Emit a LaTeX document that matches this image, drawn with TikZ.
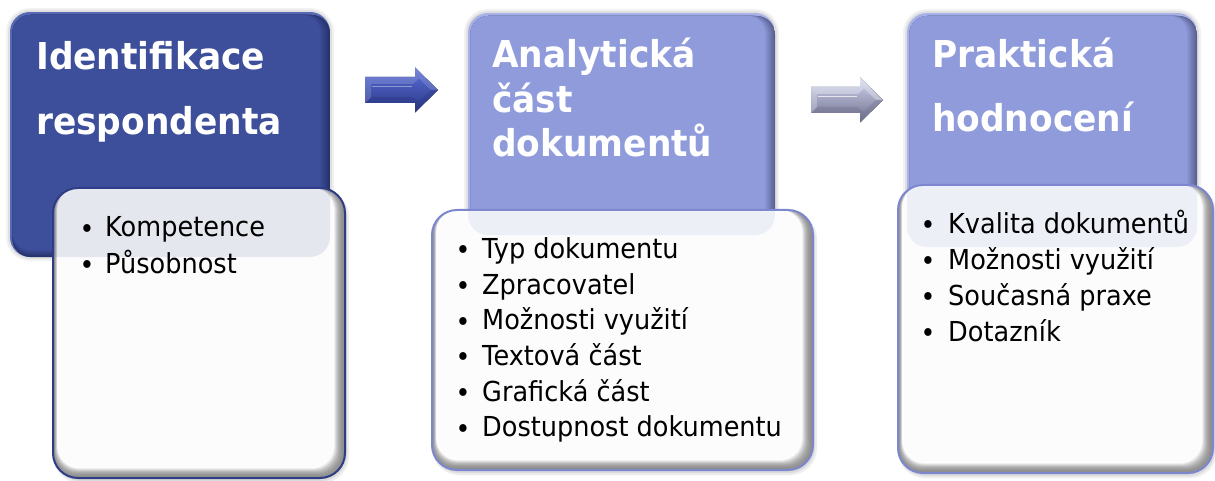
\documentclass[tikz,border=0pt]{standalone}
\usepackage{fontspec}
\setmainfont{DejaVu Sans}[FakeStretch=0.93]
\definecolor{dkblue}{HTML}{3D4F9B}
\definecolor{dkblueL}{HTML}{5869B4}
\definecolor{dkblueD}{HTML}{27326C}
\definecolor{peri}{HTML}{8F9BDB}
\definecolor{periL}{HTML}{A9B2E8}
\definecolor{periD}{HTML}{5A6292}
\definecolor{lineA}{HTML}{2E3D85}
\definecolor{lineB}{HTML}{7C87CF}
\definecolor{rim}{HTML}{8E8E8E}
\definecolor{aTop}{HTML}{5A6FD8}
\definecolor{aMid}{HTML}{4459C2}
\definecolor{aBot}{HTML}{2A3684}
\definecolor{bTop}{HTML}{D2D5F0}
\definecolor{bMid}{HTML}{B7BBDD}
\definecolor{bBot}{HTML}{6C6E8A}
\tikzset{
  ttl/.style={anchor=base west, inner sep=0pt, text=white, font=\fontsize{37}{44}\selectfont\bfseries},
  itm/.style={anchor=base west, inner sep=0pt, text=black, font=\fontsize{27.5}{33}\selectfont},
  bul/.style={anchor=base, inner sep=0pt, text=black, font=\fontsize{27}{32}\selectfont},
}
% coloured title box: x1 y1 x2 y2 base light dark
\newcommand\colbox[7]{%
  \fill[black!5, rounded corners=24] ({#1-4},{#2-4}) rectangle ({#3+4},{#4+4});
  \fill[black!12, rounded corners=22] ({#1-2},{#2-2}) rectangle ({#3+2},{#4+2});
  \begin{scope}
    \clip[rounded corners=20] (#1,#2) rectangle (#3,#4);
    \fill[#6] (#1,#2) rectangle (#3,#4);
    \foreach \i in {0,...,10}{%
      \pgfmathsetmacro\m{\i*10}
      \fill[#5!\m!#7, rounded corners=18] ({#1+2.5},{#2+3}) rectangle ({#3-\i},{#4-\i*0.7});
    }
  \end{scope}
}
% white list box: x1 y1 x2 y2, coloured box cx1 cy1 cx2 cy2, outline colour
\newcommand\whbox[9]{%
  \fill[black!7, rounded corners=27] ({#1},{#2+2}) rectangle ({#3+4},{#4+5});
  \fill[black!14, rounded corners=26] ({#1+1},{#2+2}) rectangle ({#3+2},{#4+3});
  \begin{scope}
    \clip[rounded corners=25] (#1,#2) rectangle (#3,#4);
    \fill[rim] (#1,#2) rectangle (#3,#4);
    \foreach \i in {0,...,11}{%
      \pgfmathsetmacro\m{min(100,\i*\i*0.85)}
      \fill[white!\m!rim, rounded corners=22] ({#1+\i*0.4},{#2}) rectangle ({#3-\i},{#4-\i*0.9});
    }
    \fill[white!99!black, rounded corners=20] ({#1+6},{#2+2}) rectangle ({#3-12},{#4-11});
    \fill[#9, opacity=0.11, rounded corners=20] (#5,#6) rectangle (#7,#8);
  \end{scope}
  \draw[#9, line width=2, rounded corners=25] (#1,#2) rectangle (#3,#4);
}
\begin{document}
\begin{tikzpicture}[x=1pt,y=-1pt]
\useasboundingbox (0,0) rectangle (1215,481);
\fill[white] (0,0) rectangle (1215,481);

% coloured boxes
\colbox{10}{12}{330}{257}{dkblue}{dkblueL}{dkblueD}
\colbox{468}{13}{775}{235}{peri}{periL}{periD}
\colbox{907}{13}{1197}{247}{peri}{periL}{periD}

% white boxes
\whbox{53}{188}{345}{478}{10}{12}{330}{257}{lineA}
\whbox{432}{210}{813}{470}{468}{13}{775}{235}{lineB}
\whbox{898}{185}{1213}{473}{907}{13}{1197}{247}{lineB}

% titles
\node[ttl] (t1a) at (36,70) {Identifikace};
\node[ttl] (t1b) at (36,135) {respondenta};
\node[ttl] (t2a) at (492,68) {Analytická};
\node[ttl] (t2b) at (492,113) {část};
\node[ttl] (t2c) at (492,157) {dokumentů};
\node[ttl] (t3a) at (932,68) {Praktická};
\node[ttl] (t3b) at (932,132) {hodnocení};

% list 1
\node[bul] (b1a) at (87,238) {•};
\node[itm] (i1a) at (105,236.7) {Kompetence};
\node[bul] (b1b) at (87,274.6) {•};
\node[itm] (i1b) at (105,273.3) {Působnost};

% list 2
\foreach \t [count=\k from 0] in {Typ dokumentu,Zpracovatel,Možnosti využití,Textová část,Grafická část,Dostupnost dokumentu}{
  \node[bul] (b2\k) at (463,{259.6+35.7*\k}) {•};
  \node[itm] (i2\k) at (482,{258.3+35.7*\k}) {\t};
}

% list 3
\foreach \t [count=\k from 0] in {Kvalita dokumentů,Možnosti využití,Současná praxe,Dotazník}{
  \node[bul] (b3\k) at (928,{234.6+36.1*\k}) {•};
  \node[itm] (i3\k) at (948,{233.3+36.1*\k}) {\t};
}

% arrow 1 (dark blue)
\coordinate (a1s) at (365,90);
\coordinate (a1t) at (438,90);
\fill[top color=aTop, middle color=aMid, bottom color=aBot]
  (365,77) -- (415,77) -- (415,67.5) -- (a1t) -- (415,112.5) -- (415,103) -- (365,103) -- cycle;
\fill[white, opacity=0.15] (365,77) -- (415,77) -- (415,67.5) -- (a1t) -- (431,90) -- (419,78.5) -- (413,84) -- (371,84) -- cycle;
\fill[aBot, opacity=0.35] (365,103) -- (371,97) -- (412,97) -- (419,101.5) -- (431,90) -- (a1t) -- (415,112.5) -- (415,103) -- cycle;
\fill[white, opacity=0.15] (365,77) -- (371,84) -- (371,97) -- (365,103) -- cycle;
\draw[white, opacity=0.4, line width=1.2] (372,86.5) -- (412,86.5);

% arrow 2 (light grey-lavender)
\coordinate (a2s) at (811,100);
\coordinate (a2t) at (883,100);
\fill[top color=bTop, middle color=bMid, bottom color=bBot]
  (811,87) -- (860,87) -- (860,77.5) -- (a2t) -- (860,122.5) -- (860,113) -- (811,113) -- cycle;
\fill[white, opacity=0.3] (811,87) -- (860,87) -- (860,77.5) -- (a2t) -- (876,100) -- (864,88.5) -- (858,94) -- (817,94) -- cycle;
\fill[bBot, opacity=0.35] (811,113) -- (817,107) -- (857,107) -- (864,111.5) -- (876,100) -- (a2t) -- (860,122.5) -- (860,113) -- cycle;
\fill[white, opacity=0.25] (811,87) -- (817,94) -- (817,107) -- (811,113) -- cycle;
\draw[white, opacity=0.7, line width=1.2] (818,96.5) -- (857,96.5);
\end{tikzpicture}
\end{document}
